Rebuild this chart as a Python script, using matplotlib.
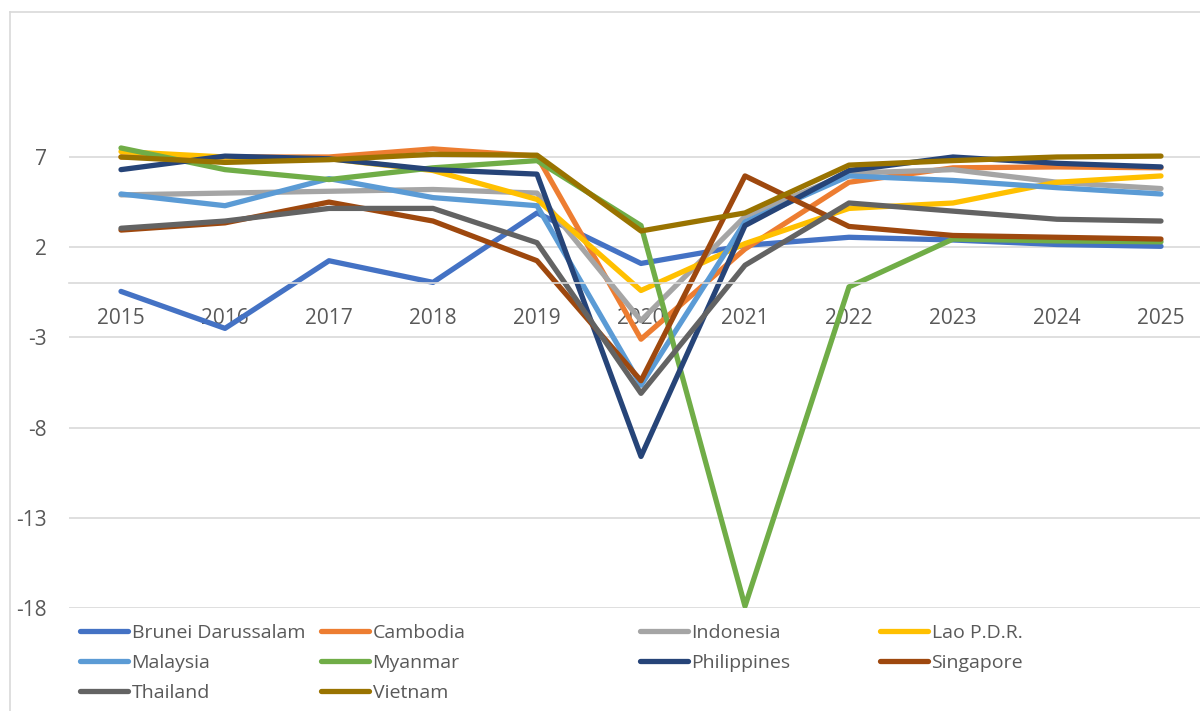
import numpy as np
import matplotlib.pyplot as plt
from matplotlib.lines import Line2D

plt.rcParams['font.family'] = ['Open Sans', 'DejaVu Sans']
plt.rcParams['axes.unicode_minus'] = False

years = [2015, 2016, 2017, 2018, 2019, 2020, 2021, 2022, 2023, 2024, 2025]

brunei = [-0.45, -2.5, 1.25, 0.05, 3.9, 1.1, 2.1, 2.55, 2.4, 2.15, 2.05]
cambodia = [7.0, 7.0, 7.0, 7.45, 7.05, -3.1, 1.9, 5.6, 6.4, 6.45, 6.4]
indonesia = [4.9, 5.0, 5.1, 5.2, 5.0, -2.07, 3.7, 6.1, 6.3, 5.6, 5.25]
lao = [7.3, 7.0, 6.9, 6.25, 4.65, -0.4, 2.2, 4.15, 4.45, 5.6, 5.95]
malaysia = [4.95, 4.3, 5.8, 4.75, 4.3, -5.65, 3.4, 5.95, 5.7, 5.3, 4.95]
myanmar = [7.5, 6.3, 5.75, 6.4, 6.8, 3.2, -17.9, -0.2, 2.45, 2.35, 2.3]
philippines = [6.3, 7.05, 6.9, 6.3, 6.05, -9.6, 3.2, 6.25, 7.0, 6.65, 6.45]
singapore = [2.95, 3.35, 4.5, 3.45, 1.25, -5.4, 5.95, 3.15, 2.65, 2.55, 2.45]
thailand = [3.05, 3.45, 4.15, 4.15, 2.25, -6.1, 1.0, 4.45, 4.0, 3.55, 3.45]
vietnam = [7.0, 6.7, 6.85, 7.15, 7.1, 2.9, 3.9, 6.55, 6.8, 7.0, 7.05]

names = ['Brunei Darussalam', 'Cambodia', 'Indonesia', 'Lao P.D.R.', 'Malaysia',
         'Myanmar', 'Philippines', 'Singapore', 'Thailand', 'Vietnam']
series = [brunei, cambodia, indonesia, lao, malaysia,
          myanmar, philippines, singapore, thailand, vietnam]
colors = ['#4472C4', '#ED7D31', '#A5A5A5', '#FFC000', '#5B9BD5',
          '#70AD47', '#264478', '#9E480E', '#636363', '#997300']

yticks = [-18, -13, -8, -3, 2, 7]

fig = plt.figure(figsize=(12, 7.11), dpi=100)
ax = fig.add_axes([69 / 1200, 1 - 608 / 711, 1131 / 1200, 541.2 / 711])

lines = {}
for name, vals, c in zip(names, series, colors):
    ln, = ax.plot(years, vals, color=c, lw=3.8, label=name,
                  solid_capstyle='round', solid_joinstyle='round')
    lines[name] = ln

ax.set_xlim(2014.5, 2014.5 + 1131 / 104)
ax.set_ylim(-18, 12)
ax.set_yticks(yticks)
ax.set_xticks(years)
ax.grid(axis='y', color='#d9d9d9', lw=1.2)
ax.set_axisbelow(True)
for s in ['top', 'right', 'left']:
    ax.spines[s].set_visible(False)
ax.spines['bottom'].set_position(('data', 0))
ax.spines['bottom'].set_color('#d9d9d9')
ax.spines['bottom'].set_linewidth(1.2)
ax.tick_params(length=0, labelsize=15, labelcolor='#595959')
ax.tick_params(axis='y', pad=16)
ax.tick_params(axis='x', pad=17.5)

# chart border (left and top edges visible)
fig.add_artist(Line2D([10 / 1200, 10 / 1200], [0, 1 - 12 / 711],
                      transform=fig.transFigure, color='#d9d9d9', lw=1.2))
fig.add_artist(Line2D([10 / 1200, 1], [1 - 12 / 711, 1 - 12 / 711],
                      transform=fig.transFigure, color='#d9d9d9', lw=1.2))

# legend in four columns
groups = [
    (80, ['Brunei Darussalam', 'Malaysia', 'Thailand']),
    (321, ['Cambodia', 'Myanmar', 'Vietnam']),
    (640, ['Indonesia', 'Philippines']),
    (880, ['Lao P.D.R.', 'Singapore']),
]
for x0, grp in groups:
    fig.legend([lines[n] for n in grp], grp, loc='upper left',
               bbox_to_anchor=(x0 / 1200, 1 - 624 / 711), frameon=False,
               fontsize=14, labelcolor='#595959', handlelength=2.45,
               handletextpad=0.2, labelspacing=0.61, borderpad=0,
               borderaxespad=0)

fig.savefig('out.png', dpi=100)
